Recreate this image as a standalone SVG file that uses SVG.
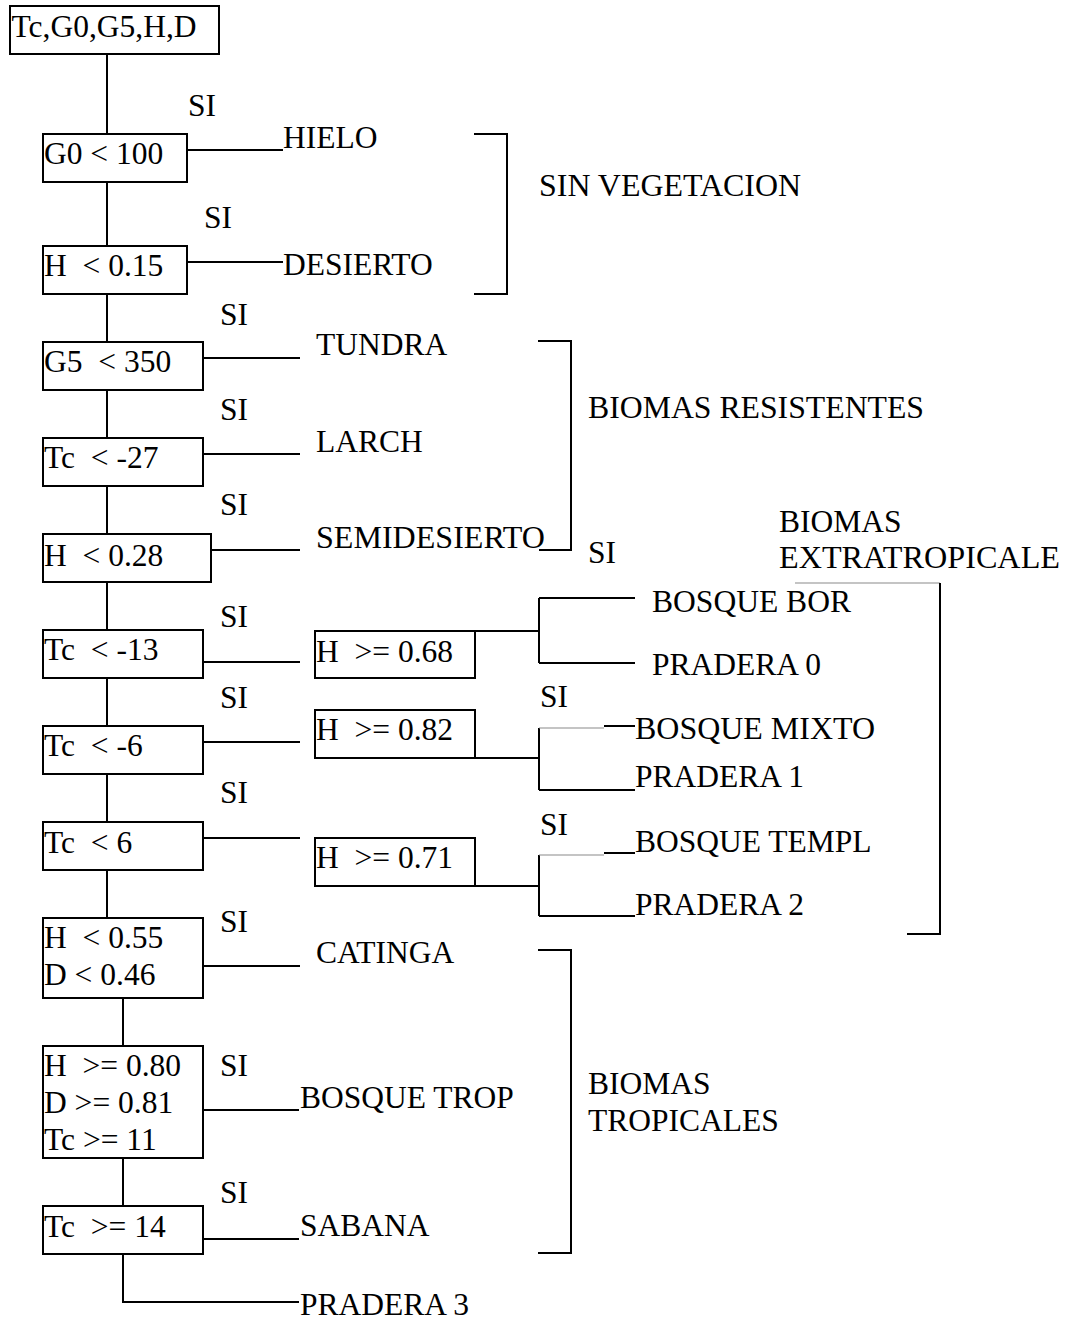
<svg xmlns="http://www.w3.org/2000/svg" width="1080" height="1321" viewBox="0 0 1080 1321">
<style>
text { font-family: "Liberation Serif", "Times New Roman", serif; font-size: 31.5px; fill: #000; white-space: pre; }
.box { fill: #fff; stroke: #000; stroke-width: 2; }
.ln { fill: none; stroke: #000; stroke-width: 2; }
.thin { fill: none; stroke: #8a8a8a; stroke-width: 1.2; }
</style>
<rect width="1080" height="1321" fill="#fff"/>
<g id="connectors">
  <path class="ln" d="M107,54 V134 M107,182 V246 M107,294 V342 M107,390 V438 M107,486 V534 M107,582 V630 M107,678 V726 M107,774 V822 M107,870 V918"/>
  <path class="ln" d="M123,998 V1046 M123,1158 V1206 M123,1254 V1302 H299"/>
  <path class="ln" d="M187,150 H283 M187,262 H283 M203,358 H300 M203,454 H300 M203,550 H300 M203,662 H300 M203,742 H300 M203,838 H300 M203,966 H300 M203,1110 H299 M203,1239 H299"/>
  <path class="ln" d="M475,631 H539 M539,598 V663 M539,598 H635 M539,663 H635"/>
  <path class="ln" d="M475,758 H539 M539,728 V790 M539,790 H635 M604,726 H635"/>
  <path class="thin" d="M539,728 H604"/>
  <path class="ln" d="M475,886 H539 M539,855 V916 M539,916 H635 M604,853 H635"/>
  <path class="thin" d="M539,855 H604"/>
  <path class="ln" d="M474,134 H507 V294 H474"/>
  <path class="ln" d="M538,341 H571 V550 H539"/>
  <path class="thin" d="M795,583 H940"/>
  <path class="ln" d="M940,583 V934 H907"/>
  <path class="ln" d="M538,950 H571 V1253 H538"/>
</g>
<g id="n-input"><rect class="box" x="10" y="6" width="209" height="48"/><text x="11.5" y="37">Tc,G0,G5,H,D</text></g>
<g id="n-g0"><rect class="box" x="43" y="134" width="144" height="48"/><text x="44" y="164">G0 &lt; 100</text></g>
<g id="n-h015"><rect class="box" x="43" y="246" width="144" height="48"/><text x="44" y="276">H  &lt; 0.15</text></g>
<g id="n-g5"><rect class="box" x="43" y="342" width="160" height="48"/><text x="44" y="372">G5  &lt; 350</text></g>
<g id="n-tc27"><rect class="box" x="43" y="438" width="160" height="48"/><text x="44" y="468">Tc  &lt; -27</text></g>
<g id="n-h028"><rect class="box" x="43" y="534" width="168" height="48"/><text x="44" y="566">H  &lt; 0.28</text></g>
<g id="n-tc13"><rect class="box" x="43" y="630" width="160" height="48"/><text x="44" y="660">Tc  &lt; -13</text></g>
<g id="n-tc6n"><rect class="box" x="43" y="726" width="160" height="48"/><text x="44" y="756">Tc  &lt; -6</text></g>
<g id="n-tc6"><rect class="box" x="43" y="822" width="160" height="48"/><text x="44" y="853">Tc  &lt; 6</text></g>
<g id="n-h055"><rect class="box" x="43" y="918" width="160" height="80"/><text x="44" y="948">H  &lt; 0.55</text><text x="44" y="985">D &lt; 0.46</text></g>
<g id="n-h080"><rect class="box" x="43" y="1046" width="160" height="112"/><text x="44" y="1076">H  &gt;= 0.80</text><text x="44" y="1113">D &gt;= 0.81</text><text x="44" y="1150">Tc &gt;= 11</text></g>
<g id="n-tc14"><rect class="box" x="43" y="1206" width="160" height="48"/><text x="44" y="1237">Tc  &gt;= 14</text></g>
<g id="n-h068"><rect class="box" x="315" y="631" width="160" height="47"/><text x="316" y="662">H  &gt;= 0.68</text></g>
<g id="n-h082"><rect class="box" x="315" y="710" width="160" height="48"/><text x="316" y="740">H  &gt;= 0.82</text></g>
<g id="n-h071"><rect class="box" x="315" y="838" width="160" height="48"/><text x="316" y="868">H  &gt;= 0.71</text></g>
<g id="si-labels">
  <text x="188" y="116">SI</text>
  <text x="204" y="228">SI</text>
  <text x="220" y="325">SI</text>
  <text x="220" y="420">SI</text>
  <text x="220" y="515">SI</text>
  <text x="588" y="563">SI</text>
  <text x="220" y="627">SI</text>
  <text x="220" y="708">SI</text>
  <text x="540" y="707">SI</text>
  <text x="220" y="803">SI</text>
  <text x="540" y="835">SI</text>
  <text x="220" y="932">SI</text>
  <text x="220" y="1076">SI</text>
  <text x="220" y="1203">SI</text>
</g>
<g id="l-hielo"><text x="283" y="148">HIELO</text></g>
<g id="l-desierto"><text x="283" y="275">DESIERTO</text></g>
<g id="l-tundra"><text x="316" y="355">TUNDRA</text></g>
<g id="l-larch"><text x="316" y="452">LARCH</text></g>
<g id="l-semidesierto"><text x="316" y="548" textLength="229" lengthAdjust="spacingAndGlyphs">SEMIDESIERTO</text></g>
<g id="l-bosquebor"><text x="652" y="612" textLength="199" lengthAdjust="spacingAndGlyphs">BOSQUE BOR</text></g>
<g id="l-pradera0"><text x="652" y="675">PRADERA 0</text></g>
<g id="l-bosquemixto"><text x="635" y="739" textLength="240" lengthAdjust="spacingAndGlyphs">BOSQUE MIXTO</text></g>
<g id="l-pradera1"><text x="635" y="787">PRADERA 1</text></g>
<g id="l-bosquetempl"><text x="635" y="852">BOSQUE TEMPL</text></g>
<g id="l-pradera2"><text x="635" y="915">PRADERA 2</text></g>
<g id="l-catinga"><text x="316" y="963">CATINGA</text></g>
<g id="l-bosquetrop"><text x="300" y="1108">BOSQUE TROP</text></g>
<g id="l-sabana"><text x="300" y="1236">SABANA</text></g>
<g id="l-pradera3"><text x="300" y="1315">PRADERA 3</text></g>
<g id="g-sinveg"><text x="539" y="196" textLength="262" lengthAdjust="spacingAndGlyphs">SIN VEGETACION</text></g>
<g id="g-resist"><text x="588" y="418" textLength="336" lengthAdjust="spacingAndGlyphs">BIOMAS RESISTENTES</text></g>
<g id="g-extra"><text x="779" y="532">BIOMAS</text><text x="779" y="568" textLength="281" lengthAdjust="spacingAndGlyphs">EXTRATROPICALE</text></g>
<g id="g-trop"><text x="588" y="1094">BIOMAS</text><text x="588" y="1131">TROPICALES</text></g>
</svg>
